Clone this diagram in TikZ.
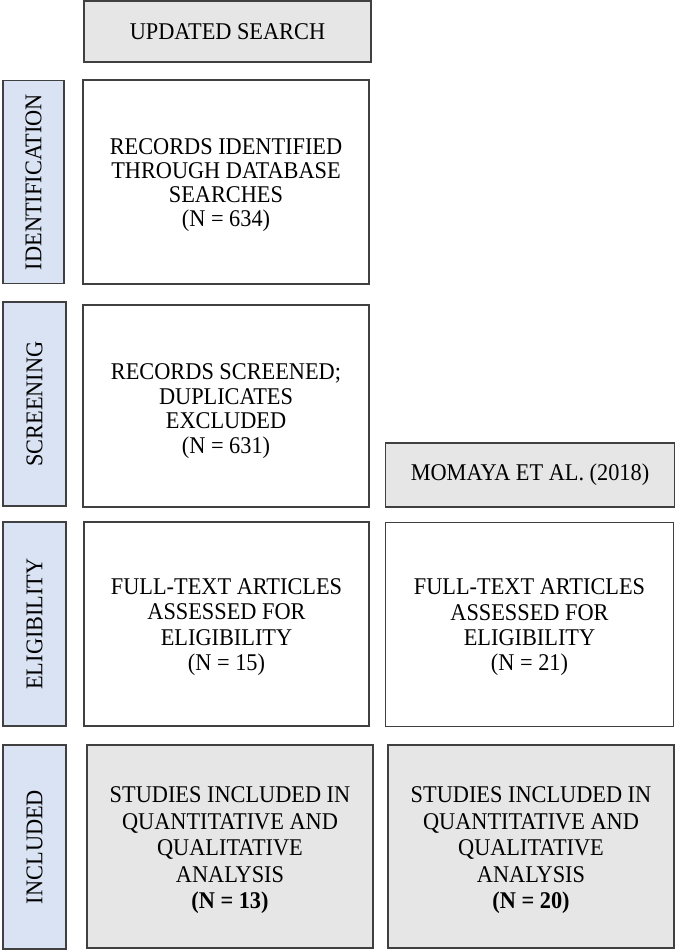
\documentclass[tikz,border=0pt]{standalone}
\usepackage{fontspec}
\setmainfont{Liberation Serif}[FakeStretch=0.93]
\definecolor{grayfill}{HTML}{E7E6E6}
\definecolor{bluefill}{HTML}{DAE3F3}
\definecolor{boxline}{HTML}{404040}
\begin{document}
\begin{tikzpicture}[x=1pt,y=-1pt,
  box/.style={draw=boxline, line width=1.3pt, rectangle, inner sep=0pt, outer sep=0pt},
  whitebox/.style={box, fill=white},
  graybox/.style={box, fill=grayfill},
  sidebox/.style={box, fill=bluefill, rotate=90, font=\fontsize{24}{24}\selectfont},
  txt/.style={align=center, inner sep=0pt, font=\fontsize{24}{24}\selectfont}
]
\useasboundingbox (0,0) rectangle (677,951);
% top
\node[graybox, minimum width=287pt, minimum height=61pt] (us) at (227.5,31.5) {};
\node[txt] (ust) at (us.center) {UPDATED SEARCH};
% identification
\node[sidebox, minimum width=203pt, minimum height=61pt] (idl) at (33.5,182) {IDENTIFICATION};
\node[whitebox, minimum width=286pt, minimum height=204pt] (idb) at (226,182) {};
\node[txt] (idt) at ([yshift=-3pt]idb.center) {RECORDS IDENTIFIED\\THROUGH DATABASE\\SEARCHES\\(N = 634)};
% screening
\node[sidebox, minimum width=204pt, minimum height=63pt] (scl) at (34.5,404) {SCREENING};
\node[whitebox, minimum width=286pt, minimum height=202pt] (scb) at (226,406) {};
\node[txt, font=\fontsize{24}{24.5}\selectfont] (sct) at ([yshift=-5pt]scb.center) {RECORDS SCREENED;\\DUPLICATES\\EXCLUDED\\(N = 631)};
\node[graybox, minimum width=289pt, minimum height=64pt] (mo) at (530,475) {};
\node[txt] (mot) at (mo.center) {MOMAYA ET AL. (2018)};
% eligibility
\node[sidebox, minimum width=204pt, minimum height=63pt] (ell) at (34.5,624) {ELIGIBILITY};
\node[whitebox, minimum width=285pt, minimum height=204pt] (elb) at (226.5,624) {};
\node[txt, font=\fontsize{24}{25.3}\selectfont] (elbt) at ([yshift=-3pt]elb.center) {FULL-TEXT ARTICLES\\ASSESSED FOR\\ELIGIBILITY\\(N = 15)};
\node[whitebox, minimum width=288pt, minimum height=204pt] (elr) at (529.5,624.5) {};
\node[txt, font=\fontsize{24}{25.3}\selectfont] (elrt) at ([yshift=-3pt]elr.center) {FULL-TEXT ARTICLES\\ASSESSED FOR\\ELIGIBILITY\\(N = 21)};
% included
\node[sidebox, minimum width=204pt, minimum height=63pt] (inl) at (34.5,847) {INCLUDED};
\node[graybox, minimum width=286pt, minimum height=203pt] (inb) at (230,846.5) {};
\node[txt, font=\fontsize{24}{26.5}\selectfont] (inbt) at ([yshift=-4pt]inb.center) {STUDIES INCLUDED IN\\QUANTITATIVE AND\\QUALITATIVE\\ANALYSIS\\\textbf{(N = 13)}};
\node[graybox, minimum width=286pt, minimum height=203pt] (inr) at (531,846.5) {};
\node[txt, font=\fontsize{24}{26.5}\selectfont] (inrt) at ([yshift=-4pt]inr.center) {STUDIES INCLUDED IN\\QUANTITATIVE AND\\QUALITATIVE\\ANALYSIS\\\textbf{(N = 20)}};
\end{tikzpicture}
\end{document}
